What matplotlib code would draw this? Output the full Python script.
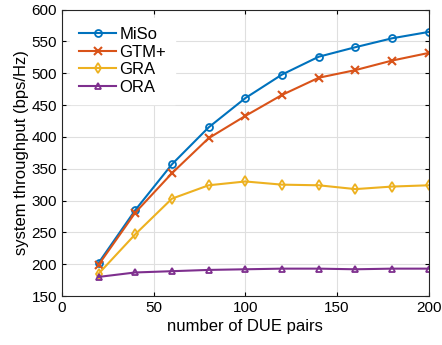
import numpy as np
import matplotlib
matplotlib.use("Agg")
import matplotlib.pyplot as plt

plt.rcParams['font.family'] = ['Liberation Sans', 'DejaVu Sans']

pares = [20, 40, 60, 80, 100, 120, 140, 160, 180, 200]
miso = [202, 285, 357, 415, 461, 498, 526, 541, 555, 565]
gtm = [199, 281, 343, 398, 433, 466, 493, 505, 520, 532]
gra = [185, 247, 303, 324, 330, 325, 324, 318, 322, 324]
ora = [180, 187, 189, 191, 192, 193, 193, 192, 193, 193]

fig = plt.figure(figsize=(4.42, 3.45), dpi=100)
ax = fig.add_axes([0.14, 0.142, 0.83, 0.83])

ax.plot(pares, miso, '-o', color='#0072BD', lw=1.5, ms=5, mfc='none', mew=1.3, label='MiSo')
ax.plot(pares, gtm, '-x', color='#D95319', lw=1.5, ms=6, mew=1.5, label='GTM+')
ax.plot(pares, gra, '-d', color='#EDB120', lw=1.5, ms=5, mfc='none', mew=1.3, label='GRA')
ax.plot(pares, ora, '-^', color='#7E2F8E', lw=1.5, ms=5, mfc='none', mew=1.3, label='ORA')

ax.set_xlim(0, 200)
ax.set_ylim(150, 600)
ax.set_xticks([0, 50, 100, 150, 200])
ax.set_yticks(np.arange(150, 601, 50))
ax.grid(True, color='#dfdfdf', lw=0.8)
ax.set_axisbelow(True)
ax.tick_params(direction='in', top=True, right=True, labelsize=11, length=3)
for s in ax.spines.values():
    s.set_color('#262626')
    s.set_linewidth(0.8)
ax.set_xlabel('number of DUE pairs', fontsize=12, labelpad=3)
ax.set_ylabel('system throughput (bps/Hz)', fontsize=12, labelpad=2)
ax.legend(loc='upper left', fontsize=12, frameon=True, edgecolor='white', framealpha=1,
          handlelength=2.2, handletextpad=0.2, labelspacing=0.15, borderpad=0.55, fancybox=False)

fig.savefig('out.png', dpi=100)
